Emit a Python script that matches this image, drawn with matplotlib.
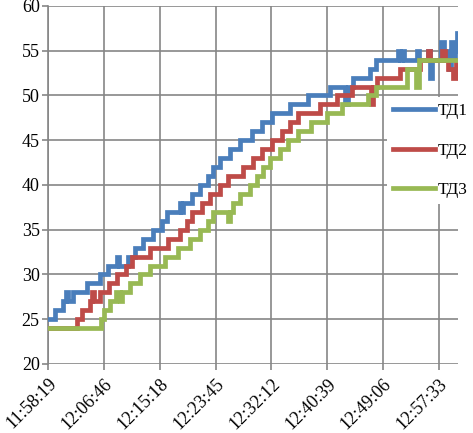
import matplotlib
matplotlib.use("Agg")
import matplotlib.pyplot as plt

# время изменения показаний, секунды от 11:58:19, и показания датчиков
t1 = [0, 64, 137, 164, 182, 228, 355, 473, 546, 628, 646, 728, 792, 865, 956,
      1037, 1083, 1201, 1210, 1229, 1310, 1383, 1456, 1502, 1565, 1656, 1747,
      1856, 1947, 2038, 2202, 2366, 2566, 2703, 2730, 2776, 2930, 2985, 3185,
      3203, 3221, 3240, 3358, 3376, 3458, 3476, 3494, 3576, 3603, 3631, 3649,
      3667, 3685, 3703, 3722, 3731]
v1 = [25, 26, 27, 28, 27, 28, 29, 30, 31, 32, 31, 32, 33, 34, 35,
      36, 37, 38, 37, 38, 39, 40, 41, 42, 43, 44, 45,
      46, 47, 48, 49, 50, 51, 49, 51, 52, 53, 54, 55,
      54, 55, 54, 55, 54, 55, 52, 54, 56, 54, 55, 53,
      56, 54, 55, 57, 57]

t2 = [0, 264, 309, 382, 400, 419, 473, 555, 628, 710, 764, 928, 1092, 1201,
      1265, 1310, 1401, 1474, 1565, 1638, 1774, 1865, 1947, 2038, 2129, 2202,
      2275, 2475, 2630, 2766, 2939, 2958, 2994, 3203, 3385, 3458, 3476, 3585,
      3612, 3640, 3685, 3713, 3731]
v2 = [24, 25, 26, 27, 28, 27, 28, 29, 30, 31, 32, 33, 34, 35,
      36, 37, 38, 39, 40, 41, 42, 43, 44, 45, 46, 47,
      48, 49, 50, 51, 49, 51, 52, 53, 54, 55, 54, 55,
      54, 53, 52, 54, 54]

t3 = [0, 482, 510, 564, 619, 655, 673, 746, 837, 928, 1065, 1183, 1292, 1383,
      1456, 1502, 1638, 1656, 1683, 1747, 1838, 1902, 1956, 2020, 2111, 2184,
      2275, 2393, 2539, 2676, 2912, 2985, 3267, 3349, 3376, 3731]
v3 = [24, 25, 26, 27, 28, 27, 28, 29, 30, 31, 32, 33, 34, 35,
      36, 37, 36, 37, 38, 39, 40, 41, 42, 43, 44, 45,
      46, 47, 48, 49, 50, 51, 53, 51, 54, 54]

tick_pos = [0, 507, 1019, 1526, 2033, 2540, 3047, 3554]
tick_lbl = ["11:58:19", "12:06:46", "12:15:18", "12:23:45",
            "12:32:12", "12:40:39", "12:49:06", "12:57:33"]

series = [("ТД1", t1, v1, "#4A7EBB"),
          ("ТД2", t2, v2, "#BE4B48"),
          ("ТД3", t3, v3, "#98B954")]

plt.rcParams["font.family"] = "serif"
plt.rcParams["font.serif"] = ["Liberation Serif", "DejaVu Serif"]
GRID = "#868686"

fig = plt.figure(figsize=(4.73, 4.33), dpi=100)
ax = fig.add_axes([48 / 473, 1 - 364 / 433, 410 / 473, 358 / 433])

for name, t, v, c in series:
    ax.plot(t, v, drawstyle="steps-post", color=c, linewidth=3.4,
            solid_joinstyle="miter", label=name, zorder=3)

ax.set_xlim(0, 3731)
ax.set_ylim(20, 60)
ax.set_yticks(range(20, 61, 5))
ax.set_xticks(tick_pos)
ax.set_xticklabels(tick_lbl, rotation=45, ha="right", rotation_mode="anchor")
ax.grid(True, color=GRID, linewidth=1.2)
ax.set_axisbelow(True)
for s in ["top", "right", "bottom"]:
    ax.spines[s].set_visible(False)
ax.spines["left"].set_color(GRID)
ax.spines["left"].set_linewidth(1.2)
ax.tick_params(colors=GRID, labelcolor="black", labelsize=13,
               length=4, width=1.2, pad=2)
ax.tick_params(axis="x", pad=4)

leg = ax.legend(loc="upper left", bbox_to_anchor=(387 / 473, 1 - 97 / 433),
                bbox_transform=fig.transFigure, fontsize=12.5, frameon=True,
                fancybox=False, edgecolor="none", facecolor="white",
                framealpha=1, handlelength=2.4, handletextpad=0.15,
                labelspacing=1.35, borderpad=0.35, borderaxespad=0)
leg.set_zorder(5)

fig.savefig("out.png", dpi=100)
